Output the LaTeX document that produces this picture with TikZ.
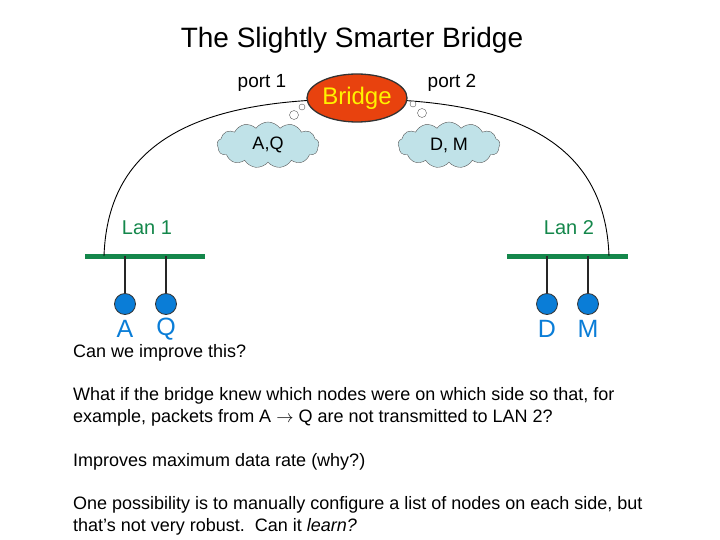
\documentclass[tikz,border=0pt]{standalone}
\usepackage{fontspec}
\setmainfont{Liberation Sans}
\usetikzlibrary{shapes.geometric,shapes.symbols}

\definecolor{langreen}{RGB}{20,135,75}
\definecolor{hostblue}{RGB}{10,125,215}
\definecolor{bridgered}{RGB}{232,66,14}
\definecolor{cloudblue}{RGB}{192,226,232}

\begin{document}
\begin{tikzpicture}[x=1pt,y=-1pt,
    lan/.style={line width=5pt,langreen},
    drop/.style={line width=1.4pt,black!85},
    host/.style={circle,draw=black!80,fill=hostblue,minimum size=21pt,inner sep=0pt,line width=0.8pt},
    hostlabel/.style={font=\fontsize{25}{25}\selectfont,text=hostblue},
    lanlabel/.style={font=\fontsize{20}{20}\selectfont,text=langreen},
    portlabel/.style={font=\fontsize{19}{19}\selectfont},
    memo/.style={cloud,cloud puffs=13,cloud puff arc=110,aspect=2.2,draw=black!65,fill=cloudblue,
        minimum width=102pt,minimum height=46pt,inner sep=0pt,font=\fontsize{18}{18}\selectfont},
    bubble/.style={circle,draw=black!65,fill=white,inner sep=0pt},
    body/.style={anchor=west,font=\fontsize{18}{18}\selectfont,inner sep=0pt}
]
\useasboundingbox (0,0) rectangle (720,540);

% title
\node[font=\fontsize{28}{28}\selectfont] (title) at (352,40) {The Slightly Smarter Bridge};

% the two LANs
\coordinate (lanoneL) at (85,256);
\coordinate (lanoneR) at (205,256);
\coordinate (lantwoL) at (507,256);
\coordinate (lantwoR) at (628,256);
\draw[lan] (lanoneL) -- (lanoneR);
\draw[lan] (lantwoL) -- (lantwoR);
\node[lanlabel] (lanonelab) at (147,228) {Lan 1};
\node[lanlabel] (lantwolab) at (569,228) {Lan 2};

% hosts
\node[host] (hostA) at (125,304) {};
\node[host] (hostQ) at (166,304) {};
\node[host] (hostD) at (547,304) {};
\node[host] (hostM) at (588,304) {};
\draw[drop] (hostA) -- (hostA |- lanoneL);
\draw[drop] (hostQ) -- (hostQ |- lanoneL);
\draw[drop] (hostD) -- (hostD |- lantwoL);
\draw[drop] (hostM) -- (hostM |- lantwoL);
\node[hostlabel] (labA) at (125,329) {A};
\node[hostlabel] (labQ) at (166,329) {Q};
\node[hostlabel] (labD) at (547,329) {D};
\node[hostlabel] (labM) at (588,329) {M};

% cable from port 1 over the bridge to port 2
\coordinate (portone) at (104,256);
\coordinate (porttwo) at (609,256);
\draw[line width=0.9pt] (portone) .. controls (108,140) and (200,99) .. (356,99)
    .. controls (512,99) and (605,140) .. (porttwo);

% bridge
\node[ellipse,draw=black!80,line width=1.3pt,fill=bridgered,minimum width=100pt,minimum height=48pt,
    inner sep=0pt,text=yellow,font=\fontsize{24}{24}\selectfont] (bridge) at (357,98) {Bridge};
\node[portlabel] (portonelab) at (262,83) {port 1};
\node[portlabel] (porttwolab) at (452,83) {port 2};

% what the bridge has learned
\node[memo] (memoone) at (268,145) {A,Q};
\node[memo] (memotwo) at (449,145) {D, M};
\node[bubble,minimum size=9pt] (bubone) at (294,115) {};
\node[bubble,minimum size=6pt] (bubtwo) at (302,107) {};
\node[bubble,minimum size=6pt] (bubthree) at (413,104) {};
\node[bubble,minimum size=9pt] (bubfour) at (422,113) {};

% text
\node[body] (askline) at (73,353) {Can we improve this?};
\node[body] (whatone) at (73,396) {What if the bridge knew which nodes were on which side so that, for};
\node[body] (whattwo) at (73,418) {example, packets from A $\rightarrow$ Q are not transmitted to LAN 2?};
\node[body] (rate) at (73,462) {Improves maximum data rate (why?)};
\node[body] (possone) at (73,505) {One possibility is to manually configure a list of nodes on each side, but};
\node[body] (posstwo) at (73,527) {that’s not very robust.\ \ Can it \textit{learn?}};

\end{tikzpicture}
\end{document}
